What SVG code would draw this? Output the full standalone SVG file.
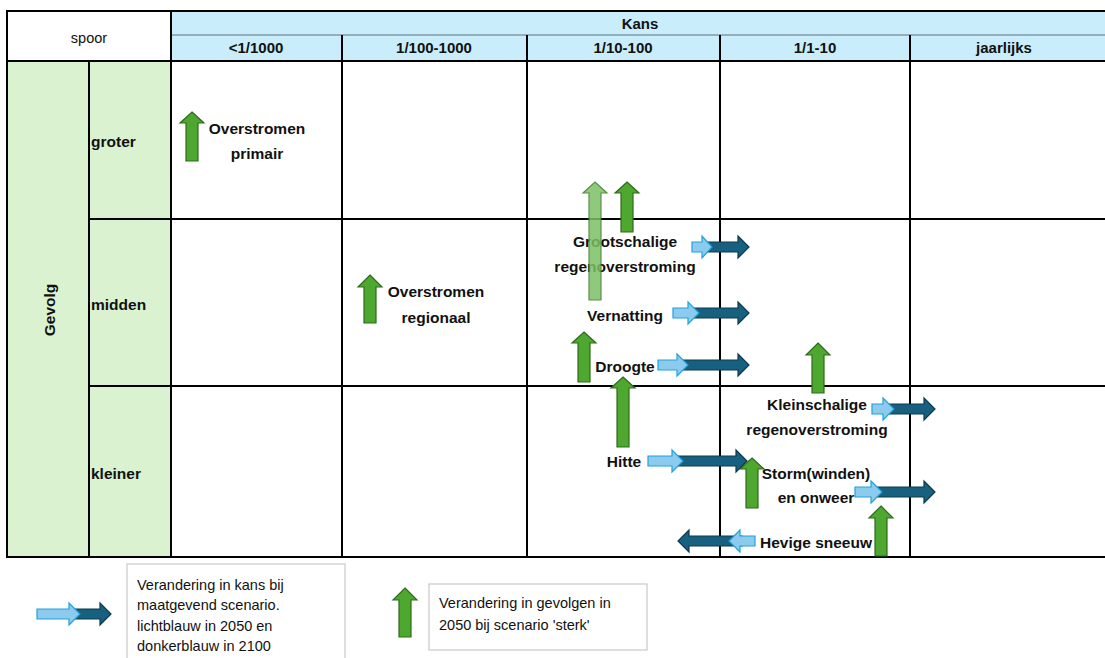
<svg xmlns="http://www.w3.org/2000/svg" width="1105" height="658" viewBox="0 0 1105 658">
<style>
.ln{stroke:#000;stroke-width:2;fill:none}
.hd{font-family:"Liberation Sans",Arial,sans-serif;font-weight:bold;font-size:15px;fill:#111;text-anchor:middle}
.lb{font-family:"Liberation Sans",Arial,sans-serif;font-weight:bold;font-size:15.5px;fill:#111;text-anchor:middle}
.rl{font-family:"Liberation Sans",Arial,sans-serif;font-weight:bold;font-size:15.5px;fill:#111}
.lg{font-family:"Liberation Sans",Arial,sans-serif;font-size:14.5px;fill:#111}
.g{fill:#4ea72e;stroke:#2f6a1d;stroke-width:1.2}
.lgr{fill:#7cc064;stroke:#3f7d2b;stroke-width:1.2;opacity:0.85}
.lbl{fill:#8ccaee;stroke:#1fa2de;stroke-width:1.2}
.dbl{fill:#17607f;stroke:#0c3a4e;stroke-width:1.2}
.box{fill:#fff;stroke:#c8c8c8;stroke-width:1.2}
</style>
<rect x="0" y="0" width="1105" height="658" fill="#fff"/>
<g id="table">
<rect x="171" y="11" width="940" height="50" fill="#caedfb"/>
<rect x="7" y="61" width="164" height="496" fill="#daf2d0"/>
<line x1="171" y1="35" x2="1105" y2="35" stroke="#7f9aa8" stroke-width="1.5"/>
<line class="ln" x1="6" y1="11" x2="1105" y2="11"/>
<line class="ln" x1="6" y1="61" x2="1105" y2="61"/>
<line class="ln" x1="6" y1="557" x2="1105" y2="557"/>
<line class="ln" x1="7" y1="10" x2="7" y2="558"/>
<line class="ln" x1="171" y1="10" x2="171" y2="558"/>
<line class="ln" x1="89" y1="61" x2="89" y2="557"/>
<line class="ln" x1="342" y1="35" x2="342" y2="557"/>
<line class="ln" x1="527" y1="35" x2="527" y2="557"/>
<line class="ln" x1="720" y1="35" x2="720" y2="557"/>
<line class="ln" x1="910" y1="35" x2="910" y2="557"/>
<line class="ln" x1="89" y1="219" x2="1105" y2="219"/>
<line class="ln" x1="89" y1="386" x2="1105" y2="386"/>
<text x="89" y="43" class="lg" text-anchor="middle">spoor</text>
<text x="640" y="29" class="hd">Kans</text>
<text x="256" y="53" class="hd">&lt;1/1000</text>
<text x="434" y="53" class="hd">1/100-1000</text>
<text x="623" y="53" class="hd">1/10-100</text>
<text x="815" y="53" class="hd">1/1-10</text>
<text x="1004" y="53" class="hd">jaarlijks</text>
<text x="0" y="0" class="lb" transform="translate(55,310) rotate(-90)">Gevolg</text>
<text x="91" y="147" class="rl">groter</text>
<text x="91" y="310" class="rl">midden</text>
<text x="91" y="479" class="rl">kleiner</text>
</g>
<g id="overstromen-primair">
<path class="g" d="M192,112 L204,123 L198,123 L198,161 L186,161 L186,123 L180,123 Z"/>
<text x="257" y="134" class="lb">Overstromen</text>
<text x="257" y="159" class="lb">primair</text>
</g>
<g id="overstromen-regionaal">
<path class="g" d="M370,275 L382,287 L376,287 L376,323 L364,323 L364,287 L358,287 Z"/>
<text x="436" y="297" class="lb">Overstromen</text>
<text x="436" y="323" class="lb">regionaal</text>
</g>
<g id="grootschalige">
<text x="625" y="247" class="lb">Grootschalige</text>
<text x="625" y="272" class="lb">regenoverstroming</text>
<path class="lgr" d="M595,182 L607,193 L601,193 L601,300 L589,300 L589,193 L583,193 Z"/>
<path class="g" d="M627,182 L639,193 L633,193 L633,232 L621,232 L621,193 L615,193 Z"/>
<path class="dbl" d="M705,242 L738,242 L738,236 L749,247 L738,258 L738,252 L705,252 Z"/>
<path class="lbl" d="M692,242 L702,242 L702,236 L712,247 L702,258 L702,252 L692,252 Z"/>
</g>
<g id="vernatting">
<text x="625" y="321" class="lb">Vernatting</text>
<path class="dbl" d="M693,308 L738,308 L738,302 L749,313 L738,324 L738,318 L693,318 Z"/>
<path class="lbl" d="M673,308 L688,308 L688,302 L699,313 L688,324 L688,318 L673,318 Z"/>
</g>
<g id="droogte">
<path class="g" d="M584,332 L596,343 L590,343 L590,382 L578,382 L578,343 L572,343 Z"/>
<text x="625" y="372" class="lb">Droogte</text>
<path class="dbl" d="M683,360 L738,360 L738,354 L749,365 L738,376 L738,370 L683,370 Z"/>
<path class="lbl" d="M658,360 L677,360 L677,354 L688,365 L677,376 L677,370 L658,370 Z"/>
</g>
<g id="midden-1-10">
<path class="g" d="M818,343 L830,355 L824,355 L824,393 L812,393 L812,355 L806,355 Z"/>
</g>
<g id="hitte">
<path class="g" d="M623,377 L635,388 L629,388 L629,447 L617,447 L617,388 L611,388 Z"/>
<text x="624" y="467" class="lb">Hitte</text>
<path class="dbl" d="M677,456 L736,456 L736,450 L747,461 L736,472 L736,466 L677,466 Z"/>
<path class="lbl" d="M648,456 L672,456 L672,450 L683,461 L672,472 L672,466 L648,466 Z"/>
</g>
<g id="kleinschalige">
<text x="817" y="410" class="lb">Kleinschalige</text>
<text x="817" y="435" class="lb">regenoverstroming</text>
<path class="dbl" d="M885,404 L924,404 L924,398 L935,409 L924,420 L924,414 L885,414 Z"/>
<path class="lbl" d="M872,404 L883,404 L883,398 L894,409 L883,420 L883,414 L872,414 Z"/>
</g>
<g id="storm">
<path class="g" d="M752,458 L764,469 L758,469 L758,508 L746,508 L746,469 L740,469 Z"/>
<text x="816" y="479" class="lb">Storm(winden)</text>
<text x="816" y="503" class="lb">en onweer</text>
<path class="dbl" d="M875,487 L924,487 L924,481 L935,492 L924,503 L924,497 L875,497 Z"/>
<path class="lbl" d="M855,487 L871,487 L871,481 L882,492 L871,503 L871,497 L855,497 Z"/>
</g>
<g id="hevige-sneeuw">
<path class="dbl" d="M742,536 L689,536 L689,530 L678,541 L689,552 L689,546 L742,546 Z"/>
<path class="lbl" d="M755,536 L740,536 L740,530 L729,541 L740,552 L740,546 L755,546 Z"/>
<text x="816" y="548" class="lb">Hevige sneeuw</text>
<path class="g" d="M881,506 L893,518 L887,518 L887,556 L875,556 L875,518 L869,518 Z"/>
</g>
<g id="legend-kans">
<path class="dbl" d="M72,609 L100,609 L100,603 L111,614 L100,625 L100,619 L72,619 Z"/>
<path class="lbl" d="M37,609 L69,609 L69,603 L80,614 L69,625 L69,619 L37,619 Z"/>
<rect class="box" x="127" y="564" width="218" height="100"/>
<text x="137" y="590" class="lg">Verandering in kans bij</text>
<text x="137" y="610" class="lg">maatgevend scenario.</text>
<text x="137" y="631" class="lg">lichtblauw in 2050 en</text>
<text x="137" y="651" class="lg">donkerblauw in 2100</text>
</g>
<g id="legend-gevolg">
<path class="g" d="M405,588 L417,600 L411,600 L411,637 L399,637 L399,600 L393,600 Z"/>
<rect class="box" x="429" y="584" width="218" height="66"/>
<text x="439" y="608" class="lg">Verandering in gevolgen in</text>
<text x="439" y="630" class="lg">2050 bij scenario 'sterk'</text>
</g>
<g id="connectors"/>
</svg>
